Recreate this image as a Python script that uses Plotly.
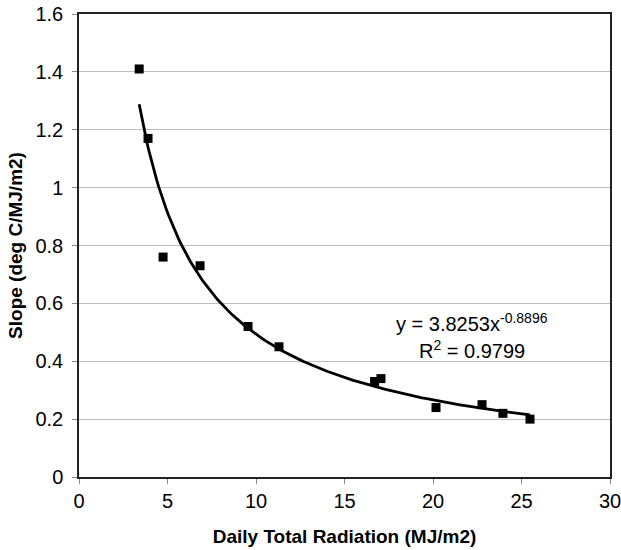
import numpy as np
import plotly.graph_objects as go

radiation = [3.4, 3.9, 4.75, 6.84, 9.55, 11.3, 16.7, 17.06, 20.17, 22.77, 23.95, 25.48]
slope = [1.41, 1.17, 0.76, 0.73, 0.52, 0.45, 0.33, 0.34, 0.24, 0.25, 0.22, 0.20]
fit_a = 3.8253
fit_b = -0.8896
x_ticks = [0, 5, 10, 15, 20, 25, 30]
y_ticks = [0, 0.2, 0.4, 0.6, 0.8, 1, 1.2, 1.4, 1.6]
y_tick_text = ["0", "0.2", "0.4", "0.6", "0.8", "1", "1.2", "1.4", "1.6"]

xf = np.linspace(min(radiation), max(radiation), 200)
yf = fit_a * xf ** fit_b

fig = go.Figure()
fig.add_trace(go.Scatter(x=xf, y=yf, mode="lines",
                         line=dict(color="black", width=2.8), showlegend=False))
fig.add_trace(go.Scatter(x=radiation, y=slope, mode="markers",
                         marker=dict(symbol="square", color="black", size=9),
                         showlegend=False))

font = "Liberation Sans, Arial, sans-serif"
fig.update_layout(
    width=621, height=550,
    margin=dict(l=79, r=11, t=14, b=73, autoexpand=False),
    plot_bgcolor="white", paper_bgcolor="white",
    font=dict(family=font, color="black", size=20),
    xaxis=dict(range=[0, 30], tickvals=x_ticks, showgrid=False, zeroline=False,
               automargin=False, ticklabeloverflow="allow",
               showline=True, linecolor="#222222", linewidth=1.5, mirror=True,
               ticks="outside", ticklen=5, tickcolor="#888888",
               tickfont=dict(size=20),
               title=dict(text="<b>Daily Total Radiation (MJ/m2)</b>", font=dict(size=19), standoff=19)),
    yaxis=dict(range=[0, 1.6], tickvals=y_ticks, ticktext=y_tick_text,
               automargin=False, ticklabeloverflow="allow",
               showgrid=True, gridcolor="#bdbdbd", gridwidth=1, zeroline=False,
               showline=True, linecolor="#222222", linewidth=1.5, mirror=True,
               ticks="outside", ticklen=5, tickcolor="#888888",
               ticklabelstandoff=5,
               tickfont=dict(size=20),
               title=dict(text="<b>Slope (deg C/MJ/m2)</b>", font=dict(size=19), standoff=8)),
    annotations=[
        dict(x=22.2, y=0.533, xref="x", yref="y",
             text="y = 3.8253x<sup>-0.8896</sup>", showarrow=False,
             font=dict(size=20, family=font)),
        dict(x=22.2, y=0.439, xref="x", yref="y",
             text="R<sup>2</sup> = 0.9799", showarrow=False,
             font=dict(size=20, family=font)),
    ],
)

fig.write_html("out.html",
               config={"displayModeBar": False},
               post_script="document.body.style.margin='0';document.body.style.overflow='hidden';")
